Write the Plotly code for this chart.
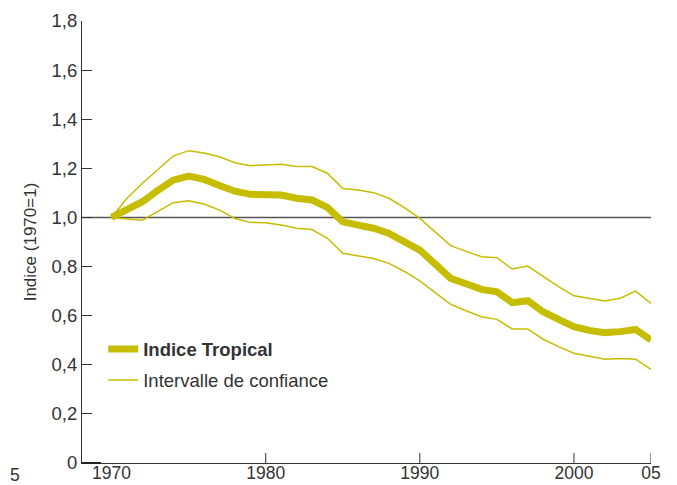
import plotly.graph_objects as go

years = list(range(1970, 2006))
indice = [1.0, 1.03, 1.064, 1.11, 1.152, 1.168, 1.155, 1.13, 1.107, 1.094,
          1.092, 1.091, 1.078, 1.071, 1.041, 0.982, 0.969, 0.956, 0.935, 0.903,
          0.867, 0.81, 0.752, 0.73, 0.707, 0.697, 0.653, 0.661, 0.616, 0.585,
          0.555, 0.54, 0.531, 0.535, 0.544, 0.501]
upper = [1.0, 1.078, 1.139, 1.195, 1.25, 1.272, 1.262, 1.247, 1.223, 1.211,
         1.214, 1.217, 1.207, 1.207, 1.18, 1.118, 1.112, 1.101, 1.078, 1.04,
         0.996, 0.94, 0.885, 0.862, 0.84, 0.836, 0.79, 0.802, 0.759, 0.718,
         0.681, 0.67, 0.66, 0.671, 0.70, 0.65]
lower = [1.0, 0.995, 0.989, 1.025, 1.06, 1.068, 1.055, 1.03, 0.996, 0.98,
         0.978, 0.969, 0.956, 0.951, 0.915, 0.854, 0.844, 0.833, 0.813, 0.78,
         0.742, 0.694, 0.646, 0.62, 0.596, 0.585, 0.546, 0.546, 0.504, 0.474,
         0.447, 0.435, 0.423, 0.426, 0.423, 0.381]

x_tickvals = [1970, 1980, 1990, 2000, 2005]
x_ticktext = ["1970", "1980", "1990", "2000", "05"]
y_tickvals = [0, 0.2, 0.4, 0.6, 0.8, 1.0, 1.2, 1.4, 1.6, 1.8]
y_ticktext = ["0", "0,2", "0,4", "0,6", "0,8", "1,0", "1,2", "1,4", "1,6", "1,8"]

COL = "#c6bd00"
TXT = "#333333"
XMIN, XMAX = 1968.08, 2005
FS = 18.5

W, H = 669, 477
L, R, T, B = 74, 26, 13, 22
PW = W - L - R

fig = go.Figure()
fig.add_trace(go.Scatter(x=years, y=indice, mode="lines", name="<b>Indice Tropical</b>",
                         line=dict(color=COL, width=7)))
fig.add_trace(go.Scatter(x=years, y=upper, mode="lines", name="Intervalle de confiance",
                         legendgroup="ci", line=dict(color=COL, width=1.5)))
fig.add_trace(go.Scatter(x=years, y=lower, mode="lines", name="Intervalle de confiance",
                         legendgroup="ci", showlegend=False, line=dict(color=COL, width=1.5)))

shapes = [dict(type="line", xref="x", yref="y", x0=XMIN, x1=XMAX, y0=1, y1=1,
               line=dict(color="#555555", width=1.5), layer="below")]
for xv in x_tickvals[1:]:
    shapes.append(dict(type="line", xref="x", yref="paper", x0=xv, x1=xv, y0=0, y1=10 / 442,
                       line=dict(color=TXT, width=1)))
shapes.append(dict(type="line", xref="paper", yref="paper", x0=0, x1=19 / PW, y0=0, y1=0,
                   line=dict(color="#222222", width=2)))

fig.update_layout(
    width=W, height=H,
    margin=dict(l=L, r=R, t=T, b=B, autoexpand=False),
    paper_bgcolor="white", plot_bgcolor="white",
    font=dict(family="Liberation Sans, Arial, sans-serif", size=FS, color=TXT),
    showlegend=True,
    legend=dict(x=0.025 + 7 / PW, y=0.3, xanchor="left", yanchor="top", bgcolor="rgba(0,0,0,0)",
                font=dict(size=FS, color=TXT), tracegroupgap=4),
    shapes=shapes,
    annotations=[dict(text="5", xref="paper", yref="paper", x=(0 - L) / PW, y=0.0,
                      xanchor="left", yanchor="top", showarrow=False,
                      font=dict(size=17.5, color=TXT))],
)
fig.update_xaxes(range=[XMIN, XMAX], tickvals=x_tickvals, ticktext=x_ticktext,
                 ticks="", showgrid=False, zeroline=False, showline=True, automargin=False,
                 ticklabelstandoff=-6,
                 linecolor=TXT, linewidth=1, tickfont=dict(size=17.5, color=TXT))
fig.update_yaxes(range=[0, 1.8], tickvals=y_tickvals, ticktext=y_ticktext,
                 ticks="inside", ticklen=10, tickcolor=TXT, showgrid=False, zeroline=False,
                 showline=True, linecolor=TXT, linewidth=1, tickfont=dict(size=FS, color=TXT),
                 automargin=False,
                 title=dict(text="Indice (1970=1)", font=dict(size=17, color=TXT), standoff=10))

fig.write_html("out.html")
